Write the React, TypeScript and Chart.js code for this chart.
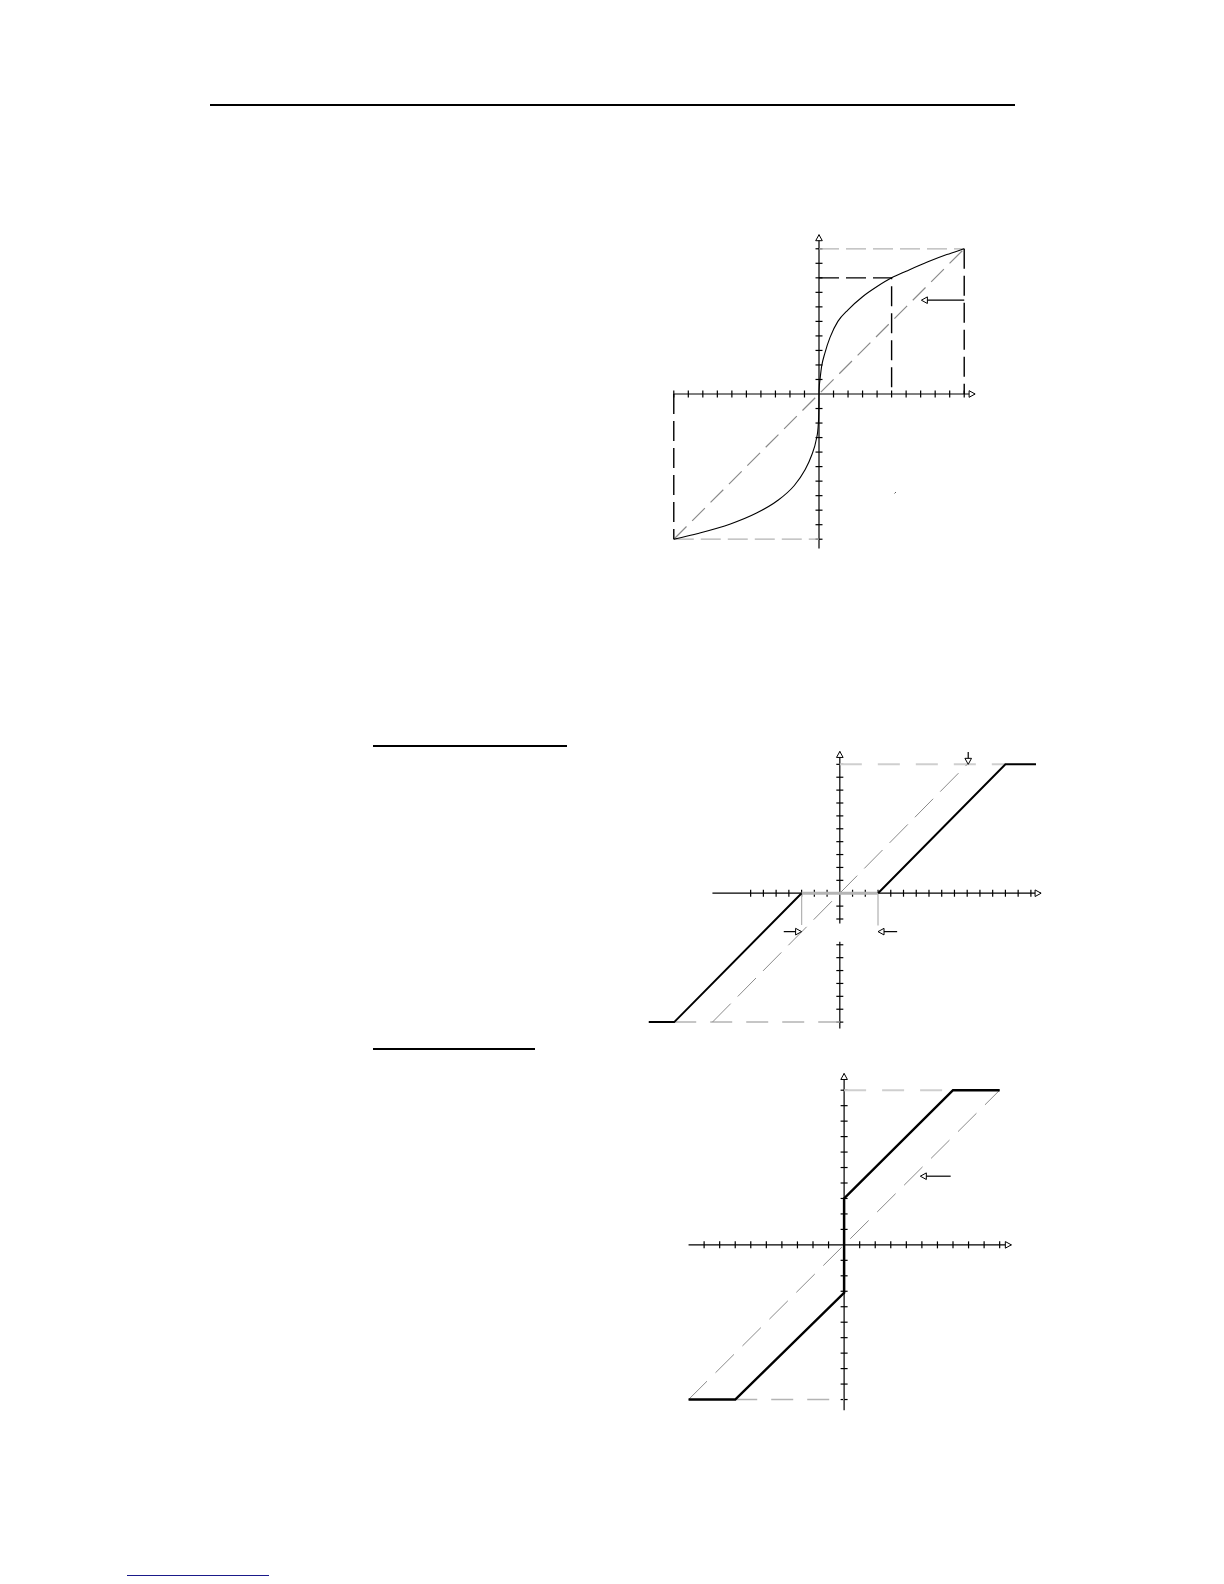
import React, { useEffect, useRef } from "react";
import { Chart, registerables } from "chart.js";

Chart.register(...registerables);

type P = [number, number];

// ---------------- Chart 1 (curved transfer characteristic) ----------------
const c1Curve: P[] = [
  [-10, -10], [-8.4, -9.62], [-6.1, -8.95], [-4.3, -8.2], [-2.8, -7.3], [-1.7, -6.3],
  [-0.95, -5.2], [-0.5, -4.2], [-0.18, -3.1], [-0.05, -2.1], [-0.01, -1], [0, 0],
  [0.02, 0.5], [0.07, 1.0], [0.18, 1.9], [0.4, 2.8], [0.76, 3.9], [1.3, 5.0], [2.0, 5.8],
  [3.0, 6.7], [4.0, 7.4], [5, 8], [6, 8.45], [7.5, 9.1], [8.8, 9.6], [10, 10],
];
const c1Diagonal: P[] = [[-10, -10], [10, 10]];
const c1TopRef: P[] = [[0, 10], [10, 10]];
const c1BottomRef: P[] = [[-10, -10], [0, -10]];
const c1RightDrop: P[] = [[10, 10], [10, 0]];
const c1MidGuide: P[] = [[0, 8], [5, 8], [5, 0]];
const c1LeftDrop: P[] = [[-10, 0], [-10, -10]];
const c1XTicks = [-10, -9, -8, -7, -6, -5, -4, -3, -2, -1, 1, 2, 3, 4, 5, 6, 7, 8, 9, 10];
const c1YTicks = [-10, -9, -8, -7, -6, -5, -4, -3, -2, -1, 1, 2, 3, 4, 5, 6, 7, 8, 9, 10];
const c1Arrows: { from: P; to: P }[] = [{ from: [10, 6.46], to: [7.05, 6.46] }];
const c1Speck: P[] = [[5.2, -6.85], [5.3, -6.75]];

// ---------------- Chart 2 (dead zone) ----------------
const c2Left: P[] = [[-15, -10], [-13, -10], [-3, 0]];
const c2Dead: P[] = [[-3, 0], [3, 0]];
const c2Right: P[] = [[3, 0], [13, 10], [15.4, 10]];
const c2Diagonal: P[] = [[-10, -10], [10, 10]];
const c2TopRef: P[] = [[0, 10], [13, 10]];
const c2BottomRef: P[] = [[-13, -10], [0, -10]];
const c2LeftMark: P[] = [[-3, 0], [-3, -2.46]];
const c2RightMark: P[] = [[3, 0], [3, -2.5]];
const c2XTicks = [-7, -6, -5, -4, -3, -2, -1, 1, 2, 3, 4, 5, 6, 7, 8, 9, 10, 11, 12, 13, 14, 15];
const c2YTicks = [-10, -9, -8, -7, -6, -5, -4, -2, -1, 1, 2, 3, 4, 5, 6, 7, 8, 9, 10];
const c2Arrows: { from: P; to: P }[] = [
  { from: [-4.4, -2.98], to: [-3, -2.98] },
  { from: [4.5, -2.98], to: [3, -2.98] },
  { from: [10.08, 10.95], to: [10.08, 10.0] },
];

// ---------------- Chart 3 (offset / backlash) ----------------
const c3Output: P[] = [[-10, -10], [-7, -10], [0, -3.1], [0, 3], [7, 10], [10, 10]];
const c3Diagonal: P[] = [[-10, -10], [10, 10]];
const c3TopRef: P[] = [[0, 10], [7, 10]];
const c3BottomRef: P[] = [[-7, -10], [0, -10]];
const c3XTicks = [-9, -8, -7, -6, -5, -4, -3, -2, -1, 1, 2, 3, 4, 5, 6, 7, 8, 9, 10];
const c3YTicks = [-10, -9, -8, -7, -6, -5, -4, -3, -2, -1, 1, 2, 3, 4, 5, 6, 7, 8, 9, 10];
const c3Arrows: { from: P; to: P }[] = [{ from: [6.85, 4.44], to: [4.9, 4.44] }];

// ---------------- helpers ----------------
type AxisSpec = {
  xLine: [number, number];
  ySegs: [number, number][];
  xTicks: number[];
  yTicks: number[];
  arrows: { from: P; to: P }[];
};

function seg(ctx: CanvasRenderingContext2D, x1: number, y1: number, x2: number, y2: number) {
  ctx.beginPath();
  ctx.moveTo(x1, y1);
  ctx.lineTo(x2, y2);
  ctx.stroke();
}

function head(ctx: CanvasRenderingContext2D, tx: number, ty: number, dx: number, dy: number) {
  const len = 6;
  const half = 3.3;
  const bx = tx - dx * len;
  const by = ty - dy * len;
  const px = -dy;
  const py = dx;
  ctx.save();
  ctx.setLineDash([]);
  ctx.fillStyle = "#fff";
  ctx.strokeStyle = "#000";
  ctx.lineWidth = 1;
  ctx.beginPath();
  ctx.moveTo(tx, ty);
  ctx.lineTo(bx + px * half, by + py * half);
  ctx.lineTo(bx - px * half, by - py * half);
  ctx.closePath();
  ctx.fill();
  ctx.stroke();
  ctx.restore();
}

function crossAxes(spec: AxisSpec) {
  const TICK = 3.5;
  return {
    id: "crossAxes",
    beforeDatasetsDraw(chart: any) {
      const ctx: CanvasRenderingContext2D = chart.ctx;
      const xs = chart.scales.x;
      const ys = chart.scales.y;
      const X = (v: number) => xs.getPixelForValue(v);
      const Y = (v: number) => ys.getPixelForValue(v);
      const x0 = X(0);
      const y0 = Y(0);
      ctx.save();
      ctx.setLineDash([]);
      ctx.strokeStyle = "#000";
      ctx.lineWidth = 1.2;
      seg(ctx, X(spec.xLine[0]), y0, X(spec.xLine[1]), y0);
      spec.ySegs.forEach((s) => seg(ctx, x0, Y(s[0]), x0, Y(s[1])));
      spec.xTicks.forEach((t) => seg(ctx, X(t), y0 - TICK, X(t), y0 + TICK));
      spec.yTicks.forEach((t) => seg(ctx, x0 - TICK, Y(t), x0 + TICK, Y(t)));
      ctx.restore();
    },
    afterDatasetsDraw(chart: any) {
      const ctx: CanvasRenderingContext2D = chart.ctx;
      const xs = chart.scales.x;
      const ys = chart.scales.y;
      const X = (v: number) => xs.getPixelForValue(v);
      const Y = (v: number) => ys.getPixelForValue(v);
      const x0 = X(0);
      const y0 = Y(0);
      const top = spec.ySegs[spec.ySegs.length - 1][1];
      head(ctx, X(spec.xLine[1]), y0, 1, 0);
      head(ctx, x0, Y(top), 0, -1);
      ctx.save();
      ctx.setLineDash([]);
      ctx.strokeStyle = "#000";
      ctx.lineWidth = 1.2;
      spec.arrows.forEach((a) => {
        const x1 = X(a.from[0]);
        const y1 = Y(a.from[1]);
        const x2 = X(a.to[0]);
        const y2 = Y(a.to[1]);
        const L = Math.hypot(x2 - x1, y2 - y1) || 1;
        const dx = (x2 - x1) / L;
        const dy = (y2 - y1) / L;
        seg(ctx, x1, y1, x2 - dx * 5, y2 - dy * 5);
        head(ctx, x2, y2, dx, dy);
      });
      ctx.restore();
    },
  };
}

function ds(pts: P[], color: string, width: number, dash: number[] = [], smooth = false) {
  return {
    data: pts.map(([x, y]) => ({ x, y })),
    showLine: true,
    borderColor: color,
    backgroundColor: color,
    borderWidth: width,
    borderDash: dash,
    borderCapStyle: "butt",
    borderJoinStyle: "miter",
    pointRadius: 0,
    pointHoverRadius: 0,
    tension: smooth ? 0.4 : 0,
    cubicInterpolationMode: smooth ? "monotone" : "default",
    fill: false,
  };
}

type PanelProps = {
  left: number;
  top: number;
  width: number;
  height: number;
  xr: [number, number];
  yr: [number, number];
  datasets: any[];
  axes: AxisSpec;
};

function Panel({ left, top, width, height, xr, yr, datasets, axes }: PanelProps) {
  const ref = useRef<HTMLCanvasElement | null>(null);
  useEffect(() => {
    if (!ref.current) return;
    const chart = new Chart(ref.current, {
      type: "scatter",
      data: { datasets },
      options: {
        animation: false,
        responsive: false,
        devicePixelRatio: 1,
        events: [],
        layout: { padding: 0 },
        plugins: { legend: { display: false }, tooltip: { enabled: false } },
        scales: {
          x: { type: "linear", min: xr[0], max: xr[1], display: false },
          y: { type: "linear", min: yr[0], max: yr[1], display: false },
        },
      },
      plugins: [crossAxes(axes) as any],
    } as any);
    return () => chart.destroy();
  }, []);
  return (
    <canvas
      ref={ref}
      width={width}
      height={height}
      style={{ position: "absolute", left, top, width, height, display: "block" }}
    />
  );
}

const BLACK = "#000";
const MID = "#8a8a8a";
const LIGHT = "#b4b4b4";
const PALE = "#cfcfcf";

export default function App() {
  return (
    <div
      style={{
        position: "absolute",
        left: 0,
        top: 0,
        width: 1224,
        height: 1584,
        background: "#fff",
        overflow: "hidden",
      }}
    >
      {/* page rules */}
      <div style={{ position: "absolute", left: 210, top: 104, width: 805, height: 2, background: "#000" }} />
      <div style={{ position: "absolute", left: 373, top: 745, width: 194, height: 2, background: "#000" }} />
      <div style={{ position: "absolute", left: 373, top: 1048, width: 162, height: 2, background: "#000" }} />
      <div style={{ position: "absolute", left: 127, top: 1575, width: 142, height: 1, background: "#1a1a8a" }} />

      <Panel
        left={652}
        top={227}
        width={334}
        height={334}
        xr={[-11.5, 11.5]}
        yr={[-11.5, 11.5]}
        datasets={[
          ds(c1Curve, BLACK, 1.1, [], true),
          ds(c1RightDrop, BLACK, 1.4, [20, 7]),
          ds(c1MidGuide, BLACK, 1.4, [20, 7]),
          ds(c1LeftDrop, BLACK, 1.4, [20, 7]),
          ds(c1Diagonal, MID, 1.2, [18, 8]),
          ds(c1TopRef, LIGHT, 1.3, [20, 7]),
          ds(c1BottomRef, LIGHT, 1.3, [20, 7]),
          ds(c1Speck, "#555", 1),
        ]}
        axes={{
          xLine: [-10, 10.75],
          ySegs: [[-10.64, 10.97]],
          xTicks: c1XTicks,
          yTicks: c1YTicks,
          arrows: c1Arrows,
        }}
      />

      <Panel
        left={636}
        top={745}
        width={414}
        height={290}
        xr={[-16, 16.5]}
        yr={[-11, 11.5]}
        datasets={[
          ds(c2Left, BLACK, 2),
          ds(c2Right, BLACK, 2),
          ds(c2Dead, LIGHT, 3),
          ds(c2Diagonal, MID, 1, [26, 10]),
          ds(c2TopRef, PALE, 2, [22, 16]),
          ds(c2BottomRef, LIGHT, 1.5, [22, 14]),
          ds(c2LeftMark, LIGHT, 1),
          ds(c2RightMark, PALE, 2),
        ]}
        axes={{
          xLine: [-10, 15.8],
          ySegs: [[-10.5, -3.76], [-2.34, 11.0]],
          xTicks: c2XTicks,
          yTicks: c2YTicks,
          arrows: c2Arrows,
        }}
      />

      <Panel
        left={673}
        top={1067}
        width={350}
        height={348}
        xr={[-11, 11.5]}
        yr={[-11, 11.5]}
        datasets={[
          ds(c3Output, BLACK, 2.5),
          ds(c3Diagonal, MID, 1, [26, 12]),
          ds(c3TopRef, PALE, 2, [22, 16]),
          ds(c3BottomRef, LIGHT, 1.5, [22, 14]),
        ]}
        axes={{
          xLine: [-10, 10.75],
          ySegs: [[-10.7, 11.08]],
          xTicks: c3XTicks,
          yTicks: c3YTicks,
          arrows: c3Arrows,
        }}
      />
    </div>
  );
}
